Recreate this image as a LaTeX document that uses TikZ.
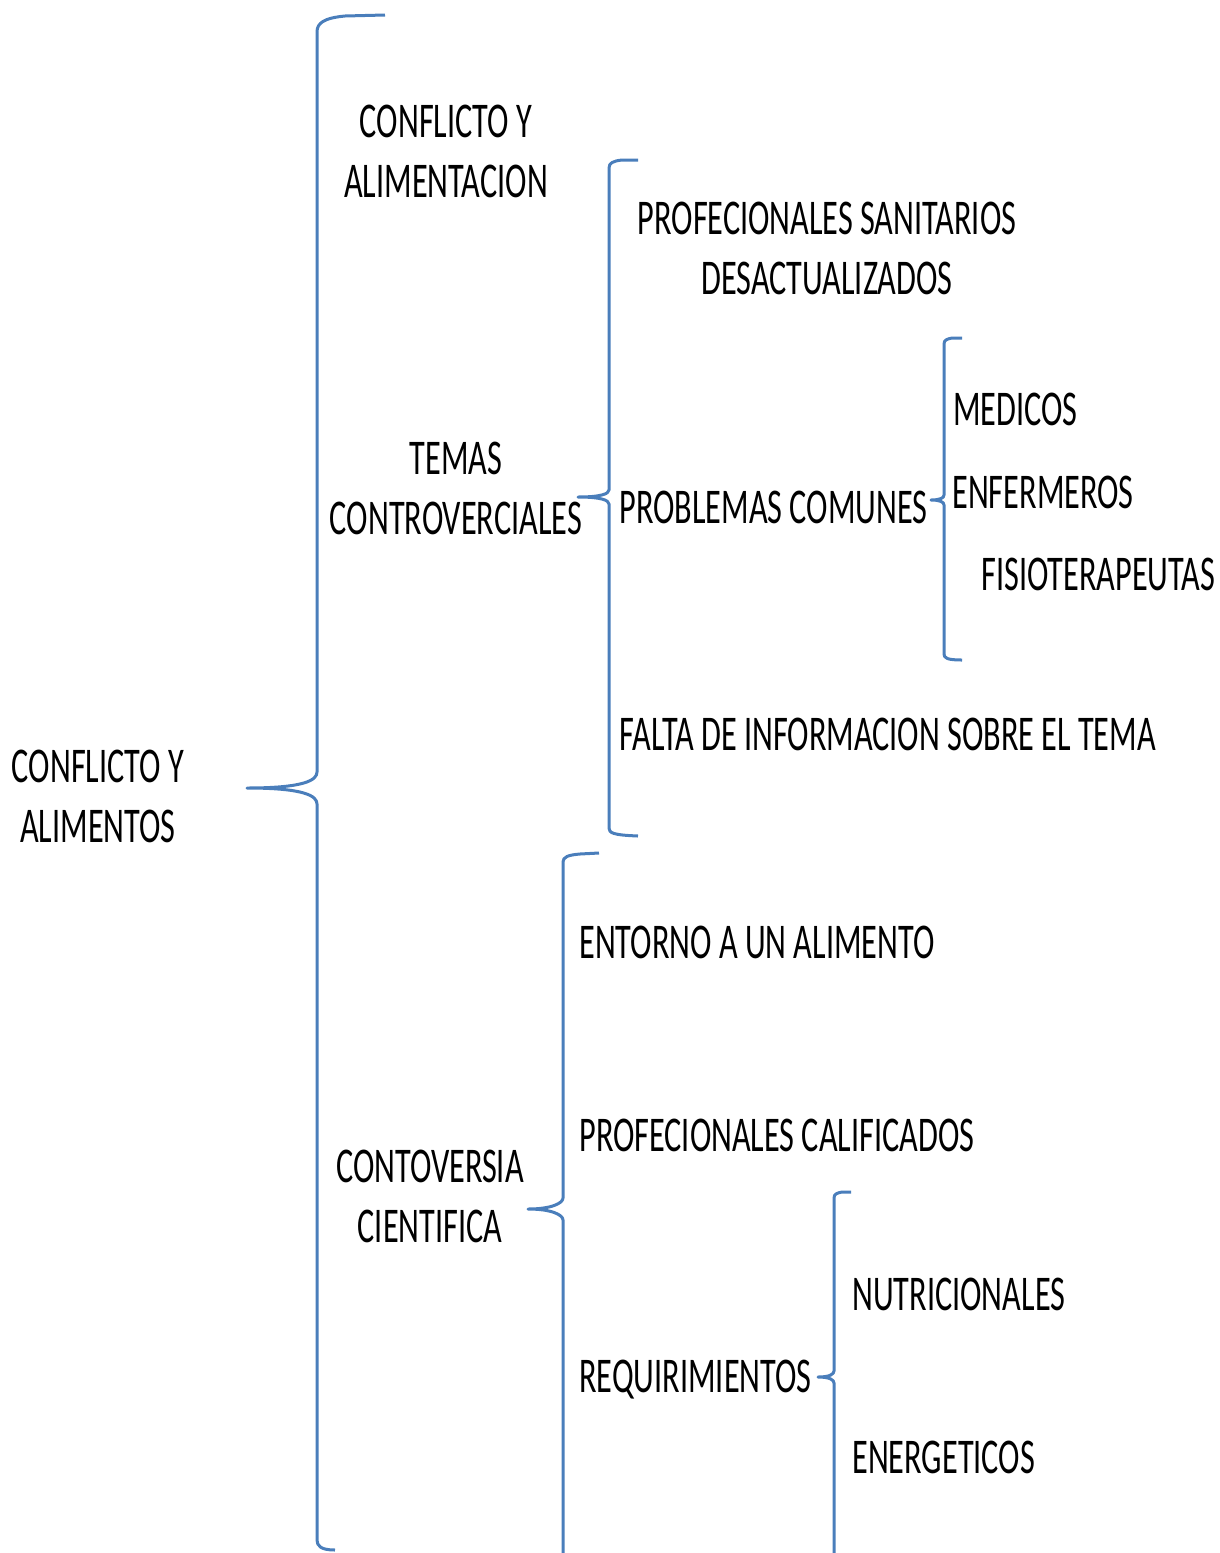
\documentclass[tikz,border=0pt]{standalone}
\usepackage{fontspec}
\setmainfont{Carlito}[FakeStretch=0.645]
\usepackage{tikz}
\usetikzlibrary{positioning}
\tikzset{llave/.style={line width=1.5pt, color=llaveazul, line join=round}}
\tikzset{texto/.style={inner sep=0pt, font=\fontsize{25}{30}\selectfont, align=center}}
\definecolor{llaveazul}{RGB}{74,126,187}

\begin{document}
\begin{tikzpicture}[x=0.5pt, y=-0.5pt, every node/.style={texto}]
            \useasboundingbox (0,0) rectangle (1220,1553);

            \node (raiz) at (98,796) {CONFLICTO Y\\ALIMENTOS};
            \node (alim) at (446,151.5) {CONFLICTO Y\\ALIMENTACION};
            \node (temas) at (456,488.5) {TEMAS\\CONTROVERCIALES};
            \node (contov) at (430,1196.5) {CONTOVERSIA\\CIENTIFICA};

            \node (sanit) at (827,248.5) {PROFECIONALES SANITARIOS\\DESACTUALIZADOS};
            \node[anchor=base west] (problemas) at (619,523) {PROBLEMAS COMUNES};
            \node[anchor=base west] (medicos) at (953,425) {MEDICOS};
            \node[anchor=base west] (enfermeros) at (952,508) {ENFERMEROS};
            \node[anchor=base west] (fisio) at (981,590) {FISIOTERAPEUTAS};
            \node[anchor=base west] (falta) at (619,750) {FALTA DE INFORMACION SOBRE EL TEMA};

            \node[anchor=base west] (entorno) at (579,958) {ENTORNO A UN ALIMENTO};
            \node[anchor=base west] (calif) at (579,1151) {PROFECIONALES CALIFICADOS};
            \node[anchor=base west] (requir) at (579,1392) {REQUIRIMIENTOS};
            \node[anchor=base west] (nutri) at (852,1310) {NUTRICIONALES};
            \node[anchor=base west] (energ) at (852,1473) {ENERGETICOS};

            % llaves
            \draw[llave] (385,15) -- (345,16) .. controls (324,18) and (317,23) .. (317,32)
                -- (317,772) .. controls (317,780) and (305,788) .. (247,788)
                .. controls (305,788) and (317,796) .. (317,804)
                -- (317,1540) .. controls (317,1546) and (321,1550) .. (335,1550);
            \draw[llave] (638,160) -- (622,160) .. controls (613,161) and (609,163) .. (609,168)
                -- (609,490) .. controls (609,494) and (600,497) .. (578,497)
                .. controls (600,497) and (609,500) .. (609,504)
                -- (609,828) .. controls (609,833) and (613,835) .. (638,836);
            \draw[llave] (962,338) -- (952,338) .. controls (947,339) and (944,340) .. (944,344)
                -- (944,495) .. controls (944,498) and (940,500) .. (931,500)
                .. controls (940,500) and (944,502) .. (944,505)
                -- (944,654) .. controls (944,658) and (947,660) .. (962,660);
            \draw[llave] (599,853) -- (580,854) .. controls (568,855) and (563,857) .. (563,862)
                -- (563,1198) .. controls (563,1203) and (552,1209) .. (528,1209)
                .. controls (552,1209) and (563,1215) .. (563,1220)
                -- (563,1553);
            \draw[llave] (851,1192) -- (842,1192) .. controls (837,1193) and (834,1194) .. (834,1198)
                -- (834,1371) .. controls (834,1374) and (830,1377) .. (818,1377)
                .. controls (830,1377) and (834,1380) .. (834,1383)
                -- (834,1553);
        \end{tikzpicture}
\end{document}
